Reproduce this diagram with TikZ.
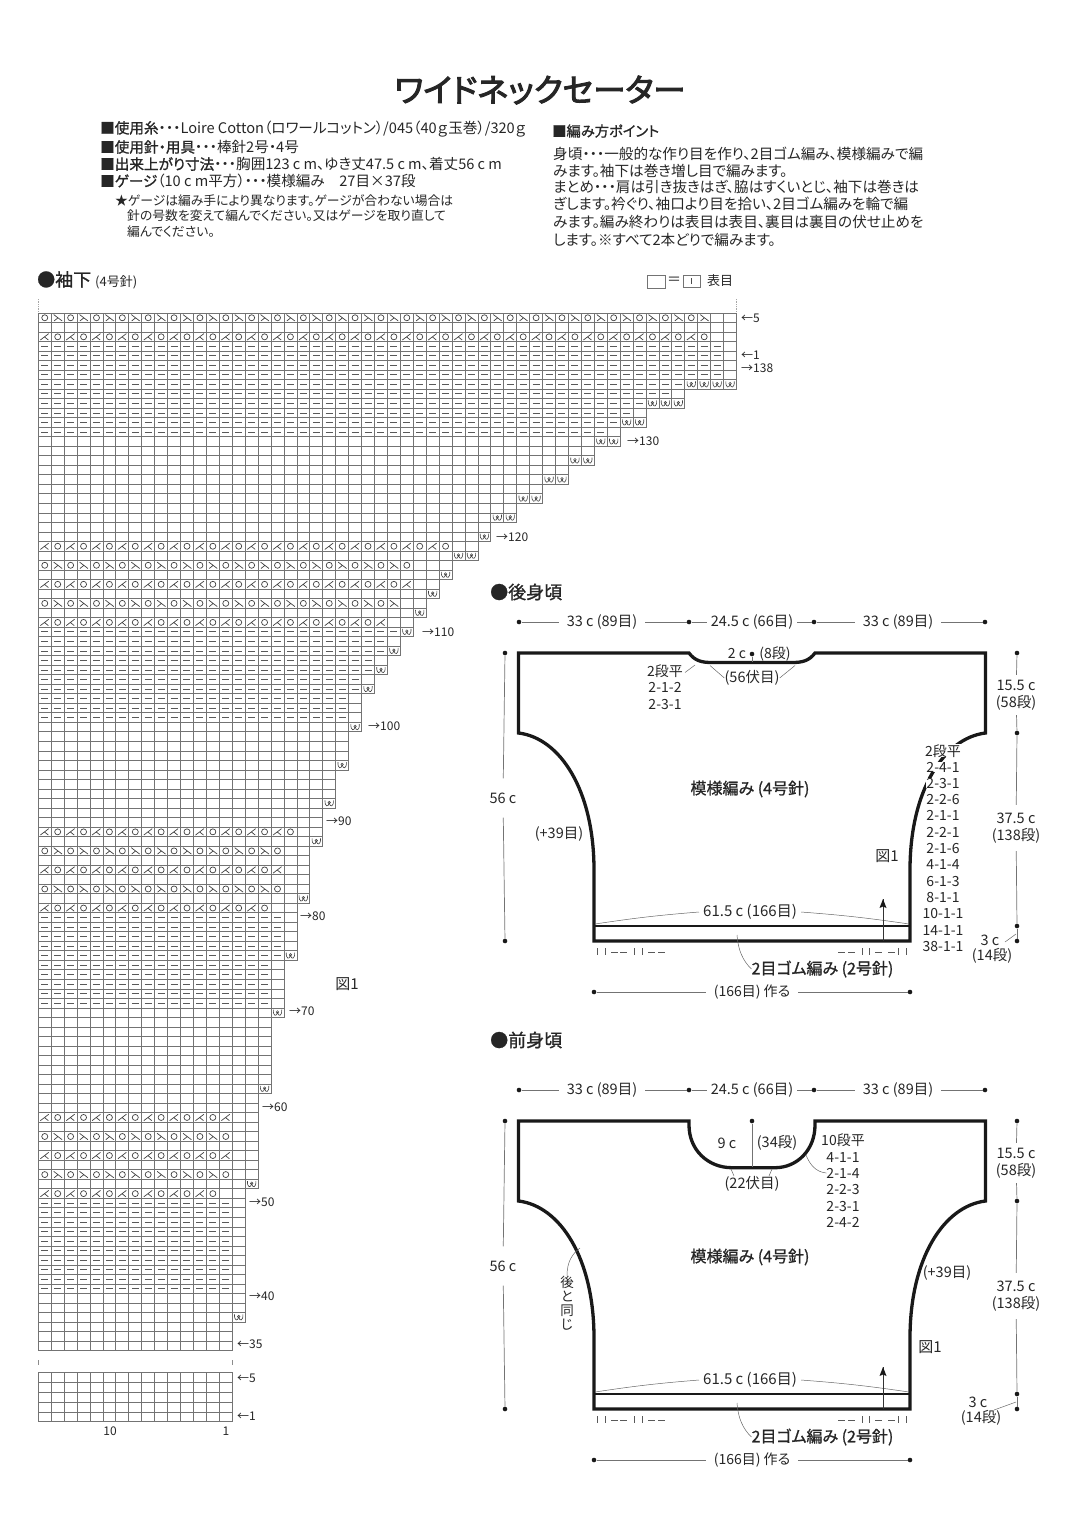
\documentclass[tikz,border=0pt]{standalone}
\usepackage{fontspec}
\setmainfont{Noto Sans CJK JP}[RawFeature={+palt}]
\newfontfamily\boldjp[FakeBold=1.1,RawFeature={+palt}]{Noto Sans CJK JP}
\newfontfamily\titlejp[FakeBold=3,RawFeature={+palt}]{Noto Sans CJK JP}
\newcommand{\fs}[1]{\fontsize{#1}{#1}\selectfont}
\def\cw{12.93}
\def\rh{9.52}
\tikzset{
  lab/.style={inner sep=0pt,text=black!85,font=\fs{14.5}},
  lableft/.style={lab,anchor=west},
  listlab/.style={lab,font=\fs{14}},
  info/.style={lableft,font=\fs{14.6}},
  note/.style={lableft,font=\fs{12.8}},
  point/.style={lableft,font=\fs{14.6}},
  rowlab/.style={lableft,font=\fs{12}},
  dimtext/.style={lab,align=center,inner xsep=8pt,inner ysep=5pt},
  dimdot/.style={circle,fill=black!90,inner sep=0pt,minimum size=4.6pt},
  dimline/.style={black!55,line width=.7pt},
  leader/.style={black!60,line width=.5pt},
  edgeline/.style={black!90,line width=3.3pt,line join=miter},
  ribmark/.style={black!65,line width=.7pt},
  chartline/.style={black!55,line width=.8pt},
  symline/.style={black!75,line width=.7pt},
  purl/.style={black!65,line width=.9pt,dash pattern=on 7pt off 5.93pt},
  incmark/.pic={
    \draw[symline,line width=.6pt] (-4.2,-3) .. controls (-4.6,3.6) and (-.8,4.4) .. (0,-.5)
      .. controls (.8,4.4) and (4.6,3.6) .. (4.2,-3);
    \draw[symline,line width=.5pt] (0,-.8) circle (1.3);
  }
}
% common part of both body pieces, #1 = prefix, #2 = neck path
\newcommand{\bodypiece}[2]{
  \draw[edgeline] (518.5,653) -- #2 -- (985.5,653) -- (985.5,733)
    .. controls (944,738) and (910,790) .. (910,870) -- (910,941) -- (594,941) -- (594,870)
    .. controls (594,790) and (560,738) .. (518.5,733) -- cycle;
  \draw[black!90,line width=2pt] (594,926) -- (910,926);
  \node[dimdot] (#1t1) at (519,622) {};
  \node[dimdot] (#1t2) at (689,622) {};
  \node[dimdot] (#1t3) at (814,622) {};
  \node[dimdot] (#1t4) at (985,622) {};
  \node[dimtext] (#1w1) at (602,622) {33 c (89目)};
  \node[dimtext,inner xsep=4pt] (#1w2) at (752,622) {24.5 c (66目)};
  \node[dimtext] (#1w3) at (898,622) {33 c (89目)};
  \node[dimdot] (#1l1) at (505,653) {};
  \node[dimdot] (#1l2) at (505,941) {};
  \node[dimtext,inner ysep=14pt] (#1h1) at (503,798) {56 c};
  \node[dimdot] (#1r1) at (1017,653) {};
  \node[dimdot] (#1r2) at (1017,733) {};
  \node[dimdot] (#1r3) at (1017,926) {};
  \node[dimdot] (#1r4) at (1017,941) {};
  \node[dimtext,fill=white,inner xsep=0pt] (#1v1) at (1016,695) {15.5 c\\[2pt](58段)};
  \node[dimtext,inner ysep=8pt] (#1v2) at (1016,828) {37.5 c\\[2pt](138段)};
  \node[dimdot] (#1b1) at (594,992) {};
  \node[dimdot] (#1b2) at (910,992) {};
  \node[dimtext,font=\fs{14}] (#1c1) at (752,992) {(166目) 作る};
  \foreach \from/\to in {#1t1/#1w1,#1w1/#1t2,#1t2/#1w2,#1w2/#1t3,#1t3/#1w3,#1w3/#1t4,
      #1l1/#1h1,#1h1/#1l2,#1r1/#1v1,#1v1/#1r2,#1r2/#1v2,#1v2/#1r3,#1r3/#1r4,#1b1/#1c1,#1c1/#1b2}
    \draw[dimline] (\from) -- (\to);
  \node[lab,font=\fs{15},inner xsep=4pt] (#1g1) at (750,912) {61.5 c (166目)};
  \coordinate (#1g2) at (595,924);
  \coordinate (#1g3) at (909,924);
  \draw[leader] (#1g2) to[bend left=2] (#1g1.west);
  \draw[leader] (#1g1.east) to[bend left=2] (#1g3);
  \node[lab,font=\boldjp\fs{16}] (#1m1) at (750,789) {模様編み (4号針)};
  \node[lab,font=\boldjp\fs{16}] (#1m2) at (822.5,969) {2目ゴム編み (2号針)};
  \coordinate (#1m3) at (737,935);
  \draw[leader] (#1m3) .. controls (738,950) and (743,961) .. (#1m2.west);
  \coordinate (#1a1) at (883,941);
  \coordinate (#1a2) at (883,899);
  \draw[black!80,line width=.8pt] (#1a1) -- (#1a2);
  \fill[black!90] (#1a2) -- (886.5,908) -- (883,906.5) -- (879.5,908) -- cycle;
  \foreach \x in {597,605,634,642,862,869,898,906}
    \draw[ribmark] (\x,948) -- (\x,955);
  \foreach \x in {611,620,648,658,838,848,875,888}
    \draw[ribmark] (\x,952) -- (\x+7,952);
}
\begin{document}
\begin{tikzpicture}[x=1pt,y=-1pt]
  \useasboundingbox (0,0) rectangle (1080,1526);

  \node[lab,font=\titlejp\fs{32.3}] (title) at (540,90) {ワイドネックセーター};
  \node[info] (i1) at (100,129) {{\boldjp ■使用糸}・・・Loire Cotton（ロワールコットン）/045（40ｇ玉巻）/320ｇ};
  \node[info] (i2) at (100,147) {{\boldjp ■使用針・用具}・・・棒針2号・4号};
  \node[info] (i3) at (100,164) {{\boldjp ■出来上がり寸法}・・・胸囲123 c m、ゆき丈47.5 c m、着丈56 c m};
  \node[info] (i4) at (100,181) {{\boldjp ■ゲージ}（10 c m平方）・・・模様編み\quad 27目×37段};
  \node[note] (i5) at (115,201) {★ゲージは編み手により異なります。ゲージが合わない場合は};
  \node[note] (i6) at (127,216) {針の号数を変えて編んでください。又はゲージを取り直して};
  \node[note] (i7) at (127,232) {編んでください。};
  \node[point,font=\boldjp\fs{14.3}] (p0) at (552,131) {■編み方ポイント};
  \node[point] (p1) at (553,154) {身頃・・・一般的な作り目を作り、2目ゴム編み、模様編みで編};
  \node[point] (p2) at (553,171) {みます。袖下は巻き増し目で編みます。};
  \node[point] (p3) at (553,187) {まとめ・・・肩は引き抜きはぎ、脇はすくいとじ、袖下は巻きは};
  \node[point] (p4) at (553,204) {ぎします。衿ぐり、袖口より目を拾い、2目ゴム編みを輪で編};
  \node[point] (p5) at (553,222) {みます。編み終わりは表目は表目、裏目は裏目の伏せ止めを};
  \node[point] (p6) at (553,240) {します。※すべて2本どりで編みます。};

  \node[lableft,font=\boldjp\fs{18}] (sl0) at (37,280) {●袖下 {\normalfont\fs{13}(4号針)}};
  \draw[black!55,line width=.7pt] (647,275) rectangle (665,288);
  \node[lab,font=\fs{14}] (eq) at (674,281) {＝};
  \draw[black!55,line width=.7pt] (683,275.5) rectangle (700.5,287);
  \draw[black!70,line width=.7pt] (691.7,278) -- (691.7,284);
  \node[lableft,font=\fs{13}] (kn) at (707,281) {表目};

  % chart rows: first/last row, width, width of the row block below
  \foreach \first/\last/\w/\nxt in {0/7/54/50,8/9/50/47,10/11/47/45,12/13/45/43,14/15/43/41,
      16/17/41/39,18/19/39/37,20/21/37/35,22/23/35/34,24/25/34/32,26/27/32/31,28/29/31/30,
      30/31/30/29,32/33/29/28,34/35/28/27,36/37/27/26,38/39/26/25,40/43/25/24,44/47/24/23,
      48/51/23/22,52/55/22/21,56/61/21/20,62/67/20/19,68/73/19/18,74/81/18/17,82/91/17/16,
      92/105/16/15,106/108/15/15} {
    \foreach \c in {1,...,\w}
      \draw[chartline] ({38.3+\c*\cw},{313+\first*\rh}) -- ({38.3+\c*\cw},{313+(\last+1)*\rh});
    \foreach \i in {\first,...,\last} {
      \draw[chartline] (38.3,{313+\i*\rh}) rectangle ({38.3+\w*\cw},{313+(\i+1)*\rh});
      \pgfmathtruncatemacro\m{mod(\i+6,30)}
      \pgfmathtruncatemacro\e{\i==\last ? \nxt : \w-1}
      \ifnum\m>8 \ifnum\m<19
        \draw[purl] ({38.3+2.96},{313+(\i+.5)*\rh}) -- ({38.3+2.96+7+(\e-1)*\cw},{313+(\i+.5)*\rh});
      \fi\fi
    }
    \ifnum\last<108
      \pgfmathtruncatemacro\s{\nxt+1}
      \foreach \c in {\s,...,\w}
        \pic at ({38.3+(\c-.5)*\cw},{313+(\last+.5)*\rh}) {incmark};
    \fi
  }
  % lace rows, a: leaning left then circle, b: circle then leaning right
  \foreach \i/\e/\kind in {0/52/1,2/52/0,24/32/0,26/29/1,28/29/0,30/28/1,32/27/0,54/20/0,56/19/1,
      58/19/0,60/19/1,62/18/0,84/15/0,86/15/1,88/15/0,90/15/1,92/14/0}
    \foreach \c in {1,...,\e} {
      \pgfmathsetmacro\cx{38.3+(\c-.5)*\cw}
      \pgfmathsetmacro\cy{313+(\i+.5)*\rh}
      \pgfmathtruncatemacro\t{mod(\c+\kind,2)}
      \ifnum\t=0
        \draw[symline] (\cx,\cy) circle (3);
      \else
        \ifnum\kind=0
          \draw[symline] (\cx+4,\cy-3.2) -- (\cx-4.4,\cy+3.2) (\cx-.4,\cy) -- (\cx+3.6,\cy+3.2);
        \else
          \draw[symline] (\cx-4,\cy-3.2) -- (\cx+4.4,\cy+3.2) (\cx+.4,\cy) -- (\cx-3.6,\cy+3.2);
        \fi
      \fi
    }
  \foreach \r in {0,...,4}
    \draw[chartline] (38.3,{1372.7+\r*9.8}) rectangle ({38.3+15*\cw},{1372.7+(\r+1)*9.8});
  \foreach \c in {1,...,14}
    \draw[chartline] ({38.3+\c*\cw},1372.7) -- ({38.3+\c*\cw},1421.7);
  \foreach \x in {38.3,232.3} {
    \draw[black!45,line width=.7pt] (\x,1360) -- (\x,1365);
  }
  \foreach \x in {38.3,736.5}
    \draw[black!35,line width=.7pt,densely dotted] (\x,299) -- (\x,312);

  \node[rowlab] (r1) at (741,318) {←5};
  \node[rowlab] (r2) at (741,355) {←1};
  \node[rowlab] (r3) at (741,368) {→138};
  \node[rowlab] (r4) at (627,441) {→130};
  \node[rowlab] (r5) at (496,537) {→120};
  \node[rowlab] (r6) at (422,632) {→110};
  \node[rowlab] (r7) at (368,726) {→100};
  \node[rowlab] (r8) at (326,821) {→90};
  \node[rowlab] (r9) at (300,916) {→80};
  \node[rowlab] (r10) at (289,1011) {→70};
  \node[rowlab] (r11) at (262,1107) {→60};
  \node[rowlab] (r12) at (249,1202) {→50};
  \node[rowlab] (r13) at (249,1296) {→40};
  \node[rowlab] (r14) at (237,1344) {←35};
  \node[rowlab] (r15) at (237,1378) {←5};
  \node[rowlab] (r16) at (237,1416) {←1};
  \node[lab,font=\fs{12}] (c10) at (110,1431) {10};
  \node[lab,font=\fs{12}] (c1) at (226,1431) {1};
  \node[lab,font=\fs{15}] (fig0) at (347,984) {図1};

  % back
  \node[lableft,font=\boldjp\fs{18}] (bk0) at (490,592) {●後身頃};
  \bodypiece{b}{(689,653) .. controls (695,661) and (702,662.5) .. (712,662.5) -- (792,662.5)
    .. controls (802,662.5) and (809,661) .. (815,653)}
  \node[listlab] (bs1) at (665,671) {2段平};
  \node[listlab] (bs2) at (665,687) {2-1-2};
  \node[listlab] (bs3) at (665,704) {2-3-1};
  \coordinate (bs4) at (685,672.5);
  \coordinate (bs5) at (695,665);
  \draw[leader] (bs4) -- (bs5);
  \node[lab,font=\fs{14}] (bn1) at (737,654) {2 c};
  \node[lab,font=\fs{14}] (bn2) at (775,654) {(8段)};
  \node[dimdot] (bn3) at (752,654) {};
  \coordinate (bn4) at (752,662);
  \draw[dimline] (bn3) -- (bn4);
  \node[lab] (bn5) at (752,678) {(56伏目)};
  \draw[leader] (710,665.5) -- (bn5.west);
  \draw[leader] (795,665.5) -- (bn5.east);
  \node[lab] (bp1) at (559,834) {(+39目)};
  \node[lab,font=\fs{15}] (bfig) at (887,856) {図1};
  \foreach \txt [count=\i] in {2段平,2-4-1,2-3-1,2-2-6,2-1-1,2-2-1,2-1-6,4-1-4,6-1-3,8-1-1,10-1-1,14-1-1,38-1-1}
    \node[listlab,fill=white] (bl\i) at (943,{734.4+16.3*\i}) {\txt};
  \node[lab] (bq1) at (990,940) {3 c};
  \node[lab] (bq2) at (992,956) {(14段)};
  \coordinate (bq3) at (1005,942);
  \coordinate (bq4) at (1016,934);
  \draw[leader] (bq3) -- (bq4);

  % front
  \node[lableft,font=\boldjp\fs{18}] (fr0) at (490,1040) {●前身頃};
  \begin{scope}[shift={(0,468)}]
    \bodypiece{f}{(689,653) -- (689,657) .. controls (689,682) and (708,699.7) .. (732,699.7)
      -- (775,699.7) .. controls (797,699.7) and (815,682) .. (815,657) -- (815,653)}
  \end{scope}
  \node[dimdot] (fn0) at (752,1121) {};
  \coordinate (fn1) at (752,1167);
  \draw[dimline] (fn0) -- (fn1);
  \node[lab] (fn2) at (727,1143) {9 c};
  \node[lab] (fn3) at (777,1143) {(34段)};
  \node[lab] (fn4) at (752,1184) {(22伏目)};
  \draw[leader] (731,1169) -- (734,1176);
  \draw[leader] (772,1169) -- (769,1176);
  \foreach \txt/\yy in {10段平/1140,4-1-1/1157,2-1-4/1173,2-2-3/1189,2-3-1/1206,2-4-2/1222}
    \node[listlab] (fs\yy) at (843,\yy) {\txt};
  \coordinate (fs0) at (806,1155);
  \draw[leader] (fs0) .. controls (810,1165) and (816,1172) .. (fs1173.west);
  \node[lab,align=center,font=\fs{13.5}] (fsame) at (567,1303) {後\\[.5pt]と\\[.5pt]同\\[.5pt]じ};
  \coordinate (fs9) at (580,1248);
  \draw[leader] (fsame.north) .. controls (567,1262) and (572,1254) .. (fs9);
  \node[lab] (fp1) at (947,1273) {(+39目)};
  \node[lab,font=\fs{15}] (ffig) at (930,1347) {図1};
  \node[lab] (fq1) at (978,1402) {3 c};
  \node[lab] (fq2) at (981,1418) {(14段)};
  \coordinate (fq3) at (994,1410);
  \coordinate (fq4) at (1016,1402);
  \draw[leader] (fq3) -- (fq4);
\end{tikzpicture}
\end{document}
